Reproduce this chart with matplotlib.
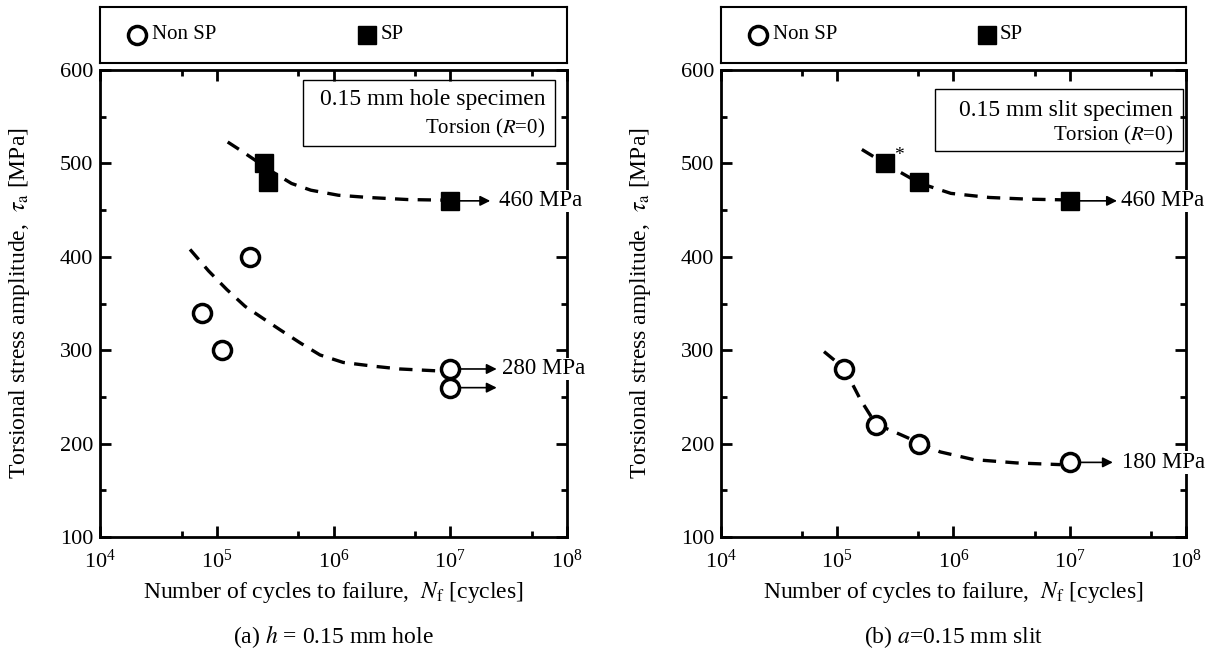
import matplotlib
matplotlib.use("Agg")
import matplotlib.pyplot as plt
from matplotlib.ticker import FixedLocator, NullFormatter

plt.rcParams['font.family'] = ['Liberation Serif', 'DejaVu Serif']
plt.rcParams['mathtext.fontset'] = 'stix'

# (a) 0.15 mm hole
hole_nonsp_n = [7.4e4, 1.1e5, 1.93e5, 1e7, 1e7]
hole_nonsp_s = [340, 300, 400, 280, 260]
hole_sp_n = [2.56e5, 2.76e5, 1e7]
hole_sp_s = [500, 480, 460]
hole_nonsp_curve_n = [5.9e4, 8.5e4, 1.22e5, 1.75e5, 2.5e5, 3.48e5, 5.17e5, 7.66e5, 1.21e6, 2.19e6, 3.7e6, 7.65e6]
hole_nonsp_curve_s = [408, 385, 365, 347, 334, 322, 308, 295, 287, 283, 280, 278]
hole_sp_curve_n = [1.24e5, 1.62e5, 3.0e5, 4.37e5, 6.4e5, 1.1e6, 2.0e6, 4.3e6, 9.3e6]
hole_sp_curve_s = [523, 513.6, 491, 478.6, 471.4, 466, 463.6, 461.4, 460.7]

# (b) 0.15 mm slit
slit_nonsp_n = [1.15e5, 2.15e5, 5.07e5, 1e7]
slit_nonsp_s = [280, 220, 200, 180]
slit_sp_n = [2.57e5, 5.1e5, 1e7]
slit_sp_s = [500, 480, 460]
slit_nonsp_curve_n = [7.7e4, 1.15e5, 1.58e5, 2.15e5, 3.5e5, 5.07e5, 7.7e5, 1.49e6, 3.5e6, 8.3e6]
slit_nonsp_curve_s = [298.6, 280.7, 247.5, 221, 209.8, 200.9, 191.2, 183, 179.4, 177.6]
slit_sp_curve_n = [1.63e5, 2.57e5, 3.8e5, 5.1e5, 9.5e5, 2.04e6, 4.4e6, 9.4e6]
slit_sp_curve_s = [515, 500, 488, 479, 468, 463.6, 461.8, 461]

# runouts: (stress, label, arrow tip, label start)
hole_runouts = [(460, '460 MPa', 2.2e7, 2.6e7), (280, '280 MPa', 2.5e7, 2.75e7),
                (260, '', 2.5e7, None)]
slit_runouts = [(460, '460 MPa', 2.55e7, 2.75e7), (180, '180 MPa', 2.35e7, 2.8e7)]

fig = plt.figure(figsize=(12.17, 6.55), dpi=100)


def setup_axes(ax):
    ax.set_xscale('log')
    ax.set_xlim(1e4, 1e8)
    ax.set_ylim(100, 600)
    ax.xaxis.set_major_locator(FixedLocator([1e4, 1e5, 1e6, 1e7, 1e8]))
    ax.xaxis.set_minor_locator(FixedLocator([5e4, 5e5, 5e6, 5e7]))
    ax.xaxis.set_minor_formatter(NullFormatter())
    ax.set_yticks([100, 200, 300, 400, 500, 600])
    ax.yaxis.set_minor_locator(FixedLocator([150, 250, 350, 450, 550]))
    ax.tick_params(which='both', direction='in', top=True, right=True, width=2, labelsize=16)
    ax.tick_params(which='major', length=8)
    ax.tick_params(which='minor', length=4)
    ax.tick_params(axis='x', which='major', pad=9)
    ax.tick_params(axis='y', which='major', pad=5)
    for s in ax.spines.values():
        s.set_linewidth(2)
    ax.set_xlabel('Number of cycles to failure,  $N_\\mathrm{f}$ [cycles]', fontsize=17, va='center')
    ax.xaxis.set_label_coords(0.5, -0.118)
    ax.set_ylabel('Torsional stress amplitude,  $\\tau_\\mathrm{a}$ [MPa]', fontsize=17, va='center')
    ax.yaxis.set_label_coords(-0.172, 0.5)


def legend_box(rect):
    lax = fig.add_axes(rect)
    lax.set_xlim(0, 1)
    lax.set_ylim(0, 1)
    lax.set_xticks([])
    lax.set_yticks([])
    for s in lax.spines.values():
        s.set_linewidth(1.5)
    lax.plot([0.079], [0.5], 'o', ms=13, mfc='white', mec='black', mew=2.5)
    lax.text(0.112, 0.5, 'Non SP', fontsize=15, va='center', ha='left')
    lax.plot([0.572], [0.5], 's', ms=12.5, mfc='black', mec='black')
    lax.text(0.6, 0.5, 'SP', fontsize=15, va='center', ha='left')


def runouts(ax, items):
    for s, lab, tip, tx in items:
        ax.annotate('', xy=(tip, s), xytext=(1e7, s),
                    arrowprops=dict(arrowstyle='-|>', lw=1.2, color='black',
                                    shrinkA=7, shrinkB=0, mutation_scale=15))
        if lab:
            ax.text(tx, s, lab, fontsize=16.5, va='center', ha='left', zorder=5,
                    bbox=dict(facecolor='white', edgecolor='none', pad=0.5))


def draw(ax, nonsp_n, nonsp_s, sp_n, sp_s, cn_n, cn_s, cs_n, cs_s):
    ax.plot(cn_n, cn_s, color='black', lw=2.4, dashes=(4, 2.8), zorder=2)
    ax.plot(cs_n, cs_s, color='black', lw=2.4, dashes=(4, 2.8), zorder=2)
    ax.plot(nonsp_n, nonsp_s, 'o', ms=13, mfc='white', mec='black', mew=2.5, ls='none', zorder=4)
    ax.plot(sp_n, sp_s, 's', ms=12.5, mfc='black', mec='black', ls='none', zorder=4)


# left panel
ax1 = fig.add_axes([0.0822, 0.180, 0.3837, 0.713])
setup_axes(ax1)
draw(ax1, hole_nonsp_n, hole_nonsp_s, hole_sp_n, hole_sp_s,
     hole_nonsp_curve_n, hole_nonsp_curve_s, hole_sp_curve_n, hole_sp_curve_s)
runouts(ax1, hole_runouts)
ax1.add_patch(plt.Rectangle((0.435, 0.838), 0.539, 0.141, transform=ax1.transAxes,
                            fill=False, lw=1, ec='black', zorder=3))
ax1.text(0.953, 0.936, '0.15 mm hole specimen', transform=ax1.transAxes,
         ha='right', va='center', fontsize=17)
ax1.text(0.953, 0.876, 'Torsion ($R$=0)', transform=ax1.transAxes,
         ha='right', va='center', fontsize=15)
legend_box([0.0822, 0.904, 0.3837, 0.0855])
fig.text(0.0822 + 0.3837 / 2, 0.0275, '(a) $h$ = 0.15 mm hole', ha='center', va='center', fontsize=17)

# right panel
ax2 = fig.add_axes([0.5924, 0.180, 0.3821, 0.713])
setup_axes(ax2)
draw(ax2, slit_nonsp_n, slit_nonsp_s, slit_sp_n, slit_sp_s,
     slit_nonsp_curve_n, slit_nonsp_curve_s, slit_sp_curve_n, slit_sp_curve_s)
runouts(ax2, slit_runouts)
ax2.text(3.4e5, 509, '*', fontsize=14, ha='center', va='center')
ax2.add_patch(plt.Rectangle((0.46, 0.827), 0.534, 0.132, transform=ax2.transAxes,
                            fill=False, lw=1, ec='black', zorder=3))
ax2.text(0.972, 0.914, '0.15 mm slit specimen', transform=ax2.transAxes,
         ha='right', va='center', fontsize=17)
ax2.text(0.972, 0.859, 'Torsion ($R$=0)', transform=ax2.transAxes,
         ha='right', va='center', fontsize=15)
legend_box([0.5924, 0.904, 0.3821, 0.0855])
fig.text(0.5924 + 0.3821 / 2, 0.0275, '(b) $a$=0.15 mm slit', ha='center', va='center', fontsize=17)

fig.savefig('out.png', dpi=100)
